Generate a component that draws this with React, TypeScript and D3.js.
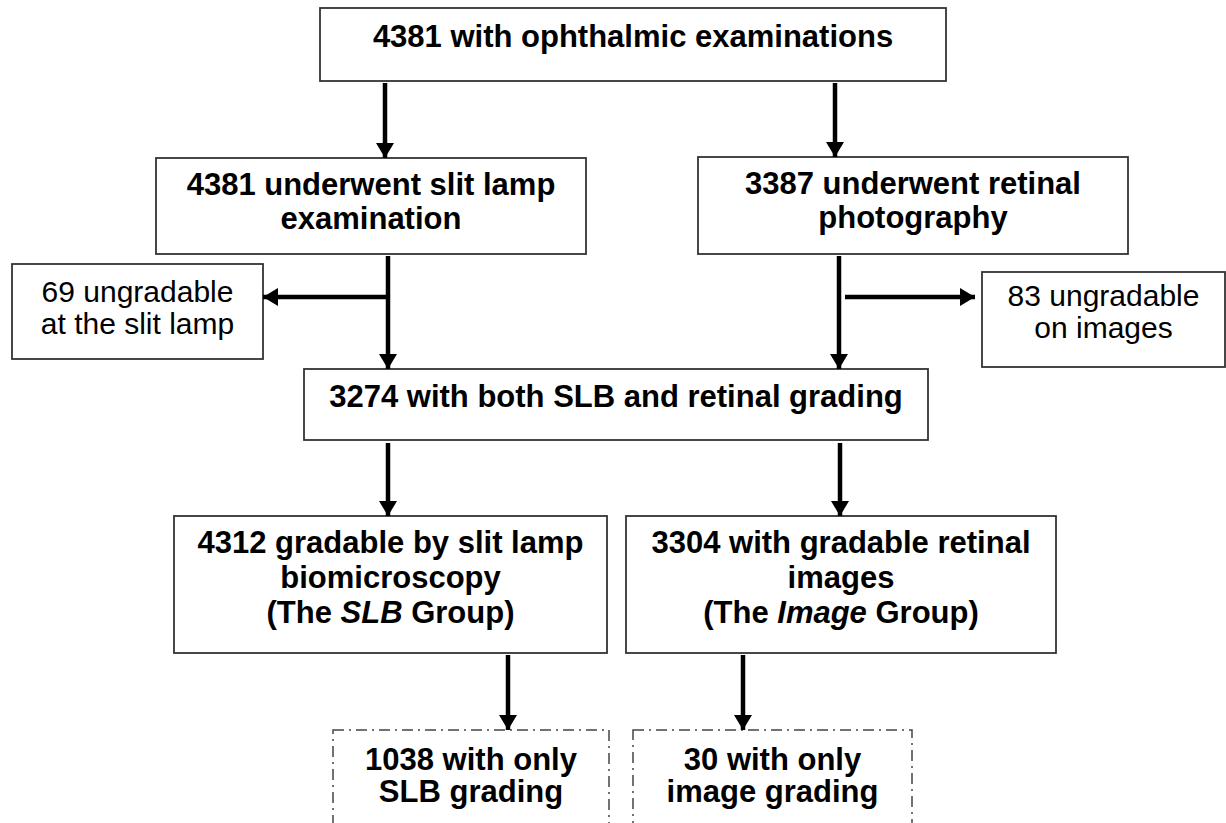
import { useRef, useEffect } from "react";
import * as d3 from "d3";

// flow counts
const mainLabels = [
  ["4381 with ophthalmic examinations"],
  ["4381 underwent slit lamp", "examination"],
  ["3387 underwent retinal", "photography"],
  ["3274 with both SLB and retinal grading"],
  ["4312 gradable by slit lamp", "biomicroscopy", "(The *SLB* Group)"],
  ["3304 with gradable retinal", "images", "(The *Image* Group)"],
];
const sideLabels = [
  ["69 ungradable", "at the slit lamp"],
  ["83 ungradable", "on images"],
];
const onlyLabels = [
  ["1038 with only", "SLB grading"],
  ["30 with only", "image grading"],
];

// layout: [x, y, w, h, first baseline, line gap]
const mainBoxes = [
  [320, 8, 626, 73, 47, 0],
  [156, 158, 430, 96, 195, 34],
  [698, 157, 430, 97, 194, 34],
  [304, 369, 624, 71, 407, 0],
  [174, 516, 433, 137, 553, 35],
  [626, 516, 430, 137, 553, 35],
];
const sideBoxes = [
  [12, 264, 251, 95, 302, 32],
  [982, 272, 243, 95, 306, 32],
];
const onlyBoxes = [
  [333, 730, 276, 140, 770, 32],
  [633, 730, 279, 140, 770, 32],
];
// arrows: [x1, y1, x2, y2]
const arrows = [
  [385, 83, 385, 158],
  [835, 83, 835, 157],
  [388, 256, 388, 369],
  [388, 297, 263, 297],
  [839, 256, 839, 369],
  [845, 297, 975, 297],
  [388, 443, 388, 516],
  [840, 443, 840, 516],
  [508, 655, 508, 730],
  [743, 655, 743, 730],
];

const FONT = "'Liberation Sans', Arial, Helvetica, sans-serif";

const App = () => {
  const svgRef = useRef<SVGSVGElement>(null);

  useEffect(() => {
    const w = 1226;
    const h = 823;
    const svg = d3.select(svgRef.current).attr("width", w).attr("height", h);
    svg.selectAll("*").remove();

    svg.append("defs")
      .append("marker")
      .attr("id", "head")
      .attr("markerUnits", "userSpaceOnUse")
      .attr("viewBox", "0 0 15 18")
      .attr("refX", 15)
      .attr("refY", 9)
      .attr("markerWidth", 15)
      .attr("markerHeight", 18)
      .attr("orient", "auto")
      .append("path")
      .attr("d", "M 0 0 L 15 9 L 0 18 z")
      .attr("fill", "#000");

    const drawBox = (box, lines, opts) => {
      const [x, y, bw, bh, base, gap] = box;
      svg.append("rect")
        .attr("x", x)
        .attr("y", y)
        .attr("width", bw)
        .attr("height", bh)
        .attr("fill", "#fff")
        .attr("stroke", opts.dashed ? "#444" : "#333")
        .attr("stroke-width", opts.dashed ? 1.5 : 1.8)
        .attr("stroke-dasharray", opts.dashed ? "11 5 2 5" : null);

      lines.forEach((line, i) => {
        const t = svg.append("text")
          .attr("x", x + bw / 2)
          .attr("y", base + i * gap)
          .attr("text-anchor", "middle")
          .attr("font-family", FONT)
          .attr("font-size", opts.bold ? 31 : 30)
          .attr("font-weight", opts.bold ? "bold" : "normal")
          .attr("fill", "#000");
        // *word* marks an italic run
        line.split("*").forEach((part, j) => {
          if (!part) return;
          t.append("tspan")
            .attr("font-style", j % 2 === 1 ? "italic" : "normal")
            .text(part);
        });
      });
    };

    mainBoxes.forEach((b, i) => drawBox(b, mainLabels[i], { bold: true }));
    sideBoxes.forEach((b, i) => drawBox(b, sideLabels[i], { bold: false }));
    onlyBoxes.forEach((b, i) => drawBox(b, onlyLabels[i], { bold: true, dashed: true }));

    svg.selectAll("line.arrow")
      .data(arrows)
      .join("line")
      .attr("class", "arrow")
      .attr("x1", (d) => d[0])
      .attr("y1", (d) => d[1])
      .attr("x2", (d) => d[2])
      .attr("y2", (d) => d[3])
      .attr("stroke", "#000")
      .attr("stroke-width", 4.5)
      .attr("marker-end", "url(#head)");
  }, []);

  return (
    <div style={{ position: "absolute", left: 0, top: 0, width: 1226, height: 823, overflow: "hidden", background: "#fff" }}>
      <svg ref={svgRef}></svg>
    </div>
  );
};

export default App;
